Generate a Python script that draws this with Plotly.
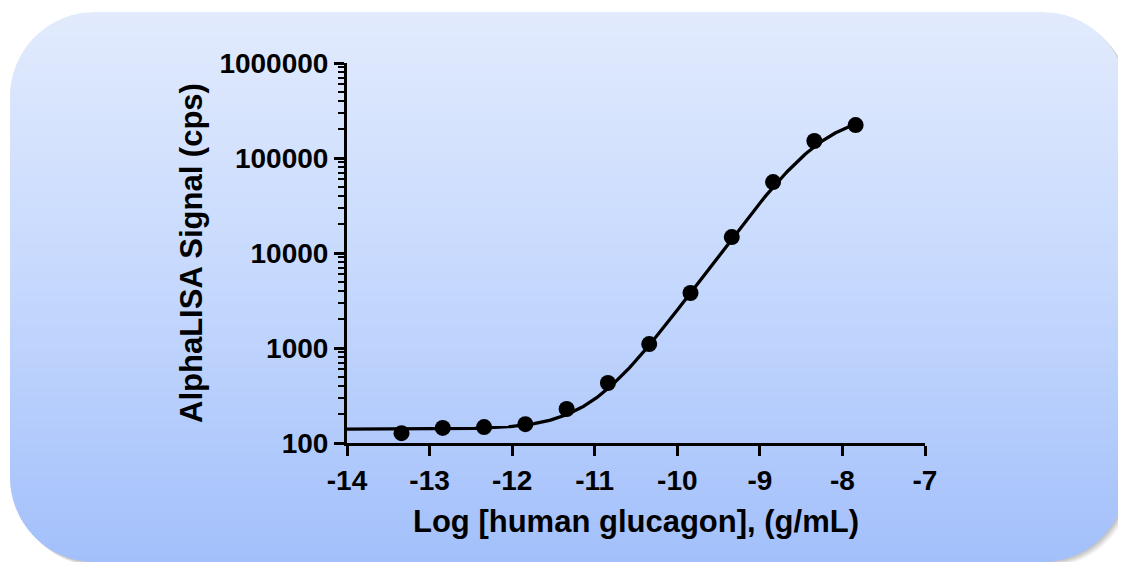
import math
import plotly.graph_objects as go

# ---- data ----
log_conc = [-13.34, -12.84, -12.34, -11.84, -11.34, -10.84, -10.34, -9.84, -9.34, -8.84, -8.34, -7.84]
signal = [127, 144, 147, 158, 228, 428, 1100, 3790, 14700, 55800, 151000, 222000]

# 4PL fit parameters
fit_bottom = 140
fit_top = 300000
fit_logec50 = -8.25
fit_hill = 1.2

x_ticks = [-14, -13, -12, -11, -10, -9, -8, -7]
x_ticktext = ["-14", "-13", "-12", "-11", "-10", "-9", "-8", "-7"]
y_ticks = [100, 1000, 10000, 100000, 1000000]
y_ticktext = ["100", "1000", "10000", "100000", "1000000"]
y_minor = [m * 10 ** d for d in range(2, 6) for m in range(2, 10)]

x_title = "Log [human glucagon], (g/mL)"
y_title = "AlphaLISA Signal (cps)"

# ---- fitted curve ----
n = 300
cx = [-14 + (log_conc[-1] + 14) * i / (n - 1) for i in range(n)]
cy = [fit_bottom + (fit_top - fit_bottom) / (1 + 10 ** ((fit_logec50 - x) * fit_hill)) for x in cx]

# ---- geometry (pixels, figure coords; page body adds an 8px offset) ----
OFF = 8
W, H = 1126 - OFF, 562 - OFF
PL, PR, PT, PB = 347 - OFF, 925 - OFF, 63 - OFF, 443 - OFF


def px(x):
    return (x - PL) / (PR - PL)


def py(y):
    return (PB - y) / (PB - PT)


BX0, BY0, BX1, BY1, BR = 10 - OFF, 12 - OFF, 1127 - OFF, 562 - OFF, 85


def xl(y, x0=BX0, y0=BY0, x1=BX1, y1=BY1, r=BR):
    if y < y0 + r:
        dy = y0 + r - y
    elif y > y1 - r:
        dy = y - (y1 - r)
    else:
        return x0
    return x0 + r - math.sqrt(max(r * r - dy * dy, 0))


def xr(y, x0=BX0, y0=BY0, x1=BX1, y1=BY1, r=BR):
    return x1 - (xl(y, x0, y0, x1, y1, r) - x0)


def rr_path(x0, y0, x1, y1, r):
    pts = []
    ys = [y0 + (y1 - y0) * i / 200 for i in range(201)]
    for y in ys:
        pts.append((xr(y, x0, y0, x1, y1, r), y))
    for y in reversed(ys):
        pts.append((xl(y, x0, y0, x1, y1, r), y))
    return "M " + " L ".join(f"{px(a):.5f},{py(b):.5f}" for a, b in pts) + " Z"


def lerp(c1, c2, t):
    return tuple(round(a + (b - a) * t) for a, b in zip(c1, c2))


top_c = (226, 235, 253)
mid_c = (197, 216, 253)
bot_c = (163, 192, 251)

shapes = []
# soft shadow
for off, op in [(5, 0.05), (4, 0.06), (3, 0.07), (2, 0.08), (1, 0.08)]:
    shapes.append(dict(type="path", xref="paper", yref="paper", layer="below",
                       path=rr_path(BX0 + off, BY0 + off, BX1 + off, BY1 + off, BR),
                       fillcolor=f"rgba(60,60,60,{op})", line=dict(width=0)))

# gradient strips
step = 3
ya = BY0
while ya < BY1:
    yb = min(ya + step + 1, BY1)
    ysamp = [ya + (yb - ya) * k / 4 for k in range(5)]
    pts = [(xl(y), y) for y in ysamp] + [(xr(y), y) for y in reversed(ysamp)]
    path = "M " + " L ".join(f"{px(a):.5f},{py(b):.5f}" for a, b in pts) + " Z"
    t = ((ya + yb) / 2 - BY0) / (BY1 - BY0)
    c = lerp(top_c, mid_c, t * 2) if t < 0.5 else lerp(mid_c, bot_c, (t - 0.5) * 2)
    shapes.append(dict(type="path", xref="paper", yref="paper", layer="below",
                       path=path, fillcolor=f"rgb{c}", line=dict(width=0)))
    ya += step

FONT = "Liberation Sans, Arial, sans-serif"

fig = go.Figure()
fig.add_trace(go.Scatter(x=cx, y=cy, mode="lines", line=dict(color="black", width=3.3),
                         hoverinfo="skip", showlegend=False))
fig.add_trace(go.Scatter(x=log_conc, y=signal, mode="markers",
                         marker=dict(color="black", size=16), showlegend=False))

fig.update_layout(
    width=W, height=H,
    margin=dict(l=PL, r=W - PR, t=PT, b=H - PB),
    paper_bgcolor="white",
    plot_bgcolor="rgba(0,0,0,0)",
    shapes=shapes,
    font=dict(family=FONT, color="black"),
)

fig.update_xaxes(
    range=[-14, -7], tickmode="array", tickvals=x_ticks, ticktext=x_ticktext,
    showgrid=False, zeroline=False, showline=True, linecolor="black", linewidth=3,
    ticks="outside", ticklen=10, tickwidth=3, tickcolor="black",
    tickfont=dict(family=FONT, size=28, weight="bold", color="black"),
    title=dict(text=x_title, font=dict(family=FONT, size=31, weight="bold", color="black"), standoff=16),
)
fig.update_yaxes(
    type="log", range=[2, 6], tickmode="array", tickvals=y_ticks, ticktext=y_ticktext,
    showgrid=False, zeroline=False, showline=True, linecolor="black", linewidth=3,
    ticks="outside", ticklen=10, tickwidth=3, tickcolor="black",
    tickfont=dict(family=FONT, size=28, weight="bold", color="black"),
    minor=dict(tickmode="array", tickvals=y_minor, ticks="outside", ticklen=6, tickwidth=2,
               tickcolor="black", showgrid=False),
    title=dict(text=y_title, font=dict(family=FONT, size=31, weight="bold", color="black"), standoff=8),
)

fig.write_html("out.html")
